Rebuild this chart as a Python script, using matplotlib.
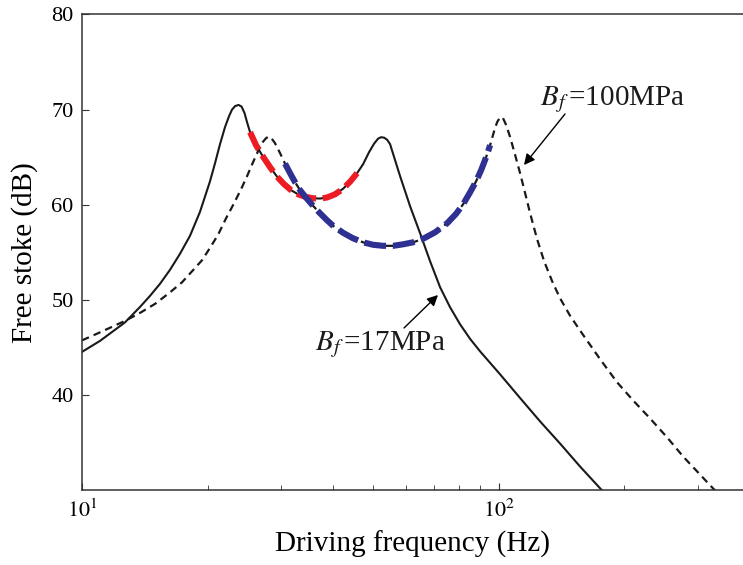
import numpy as np
import matplotlib
matplotlib.use('Agg')
from matplotlib import pyplot as plt
from matplotlib import ticker

# B_f = 17 MPa (solid curve)
f_17 = [10.00, 11.04, 12.68, 13.78, 14.56, 15.38, 16.26, 17.18, 18.16, 19.19, 20.28, 20.85,
        21.43, 22.03, 22.53, 22.90, 23.29, 23.74, 24.14, 24.54, 24.88, 25.30, 26.15, 27.18,
        28.25, 29.37, 30.53, 31.73, 32.98, 34.28, 35.82, 37.24, 38.70, 40.46, 42.29, 43.95,
        45.69, 47.23, 48.82, 50.18, 51.31, 52.16, 53.04, 53.92, 54.82, 56.36, 57.94, 61.23,
        64.71, 68.39, 72.27, 76.38, 80.72, 85.31, 90.15, 100.7, 112.4, 125.6, 140.2, 156.6,
        176.9, 184.9]
db_17 = [44.52, 45.67, 47.62, 49.25, 50.41, 51.67, 53.15, 54.83, 56.73, 59.25, 62.46, 64.36,
         66.36, 68.15, 69.31, 69.99, 70.36, 70.48, 70.31, 69.62, 68.67, 67.62, 66.25, 65.04,
         63.94, 62.94, 62.15, 61.52, 61.09, 60.83, 60.67, 60.64, 60.75, 61.09, 61.67, 62.41,
         63.31, 64.25, 65.52, 66.41, 66.94, 67.09, 67.04, 66.83, 66.36, 64.67, 62.99, 59.83,
         56.99, 54.04, 51.31, 49.20, 47.41, 45.88, 44.57, 42.15, 39.67, 37.20, 34.88, 32.46,
         29.94, 29.09]

# B_f = 100 MPa (dashed curve)
f_100 = [10.00, 11.04, 12.68, 13.78, 14.97, 16.26, 17.37, 18.36, 19.40, 20.28, 21.20, 22.16,
         23.16, 24.07, 24.88, 25.72, 26.44, 27.18, 27.64, 28.02, 28.41, 29.04, 29.86, 30.69,
         31.55, 32.44, 33.35, 34.47, 35.82, 37.24, 38.70, 40.01, 42.29, 44.69, 47.23, 49.91,
         52.74, 55.74, 58.91, 62.26, 65.79, 70.30, 75.12, 78.95, 82.06, 85.31, 88.17, 90.64,
         93.18, 95.26, 97.39, 99.01, 100.7, 102.3, 104.1, 106.4, 109.4, 112.4, 115.6, 118.8,
         123.5, 128.4, 134.2, 140.2, 148.2, 158.3, 175.0, 192.2, 209.9, 230.5, 253.3, 276.6,
         300.6, 326.6, 343.2]
db_100 = [45.73, 46.57, 47.78, 48.62, 49.57, 50.78, 51.83, 52.99, 54.15, 55.46, 56.83, 58.57,
          60.15, 61.62, 62.99, 64.46, 65.62, 66.62, 66.99, 67.15, 67.04, 66.46, 65.41, 64.31,
          63.31, 62.36, 61.52, 60.73, 59.88, 59.09, 58.36, 57.78, 57.04, 56.46, 56.04, 55.78,
          55.67, 55.67, 55.83, 56.04, 56.41, 57.09, 58.04, 59.04, 60.04, 61.31, 62.46, 63.62,
          64.99, 66.25, 67.73, 68.67, 69.20, 69.09, 68.36, 67.09, 65.20, 63.31, 61.20, 59.09,
          56.36, 54.04, 51.94, 50.15, 48.31, 46.46, 43.73, 41.31, 39.41, 37.52, 35.52, 33.52,
          31.83, 30.15, 29.20]

# frequency ranges drawn in colour
red_range  = (25.3, 45.9)
blue_range = (30.6, 96.9)

# =============================================================================

plt.rcParams['font.family'] = ['Liberation Serif', 'DejaVu Serif']
plt.rcParams['mathtext.fontset'] = 'stix'

f_17, db_17   = np.array(f_17), np.array(db_17)
f_100, db_100 = np.array(f_100), np.array(db_100)

fig = plt.figure(figsize=(7.43, 5.65), dpi=100)
ax = fig.add_axes([82/743, 75/565, 1 - 82/743, 475.6/565])

ax.plot(f_17, db_17, color='#1a1a1a', lw=1.5)
ax.plot(f_100, db_100, color='#1a1a1a', lw=1.6, ls=(0, (3.4, 2.3)))

m = (f_17 >= red_range[0]) & (f_17 <= red_range[1])
ax.plot(f_17[m], db_17[m], color='#ed1c24', lw=4.4, ls=(0, (3.2, 1.1)), dash_capstyle='butt')
m = (f_100 >= blue_range[0]) & (f_100 <= blue_range[1])
ax.plot(f_100[m], db_100[m], color='#2e3192', lw=4.4, ls=(0, (3.6, 1.1)), dash_capstyle='butt')

ax.set_xscale('log')
ax.set_xlim(10, 385)
ax.set_ylim(30, 80)
ax.set_yticks([40, 50, 60, 70, 80])
ax.xaxis.set_major_locator(ticker.FixedLocator([10, 100]))
ax.xaxis.set_major_formatter(ticker.FixedFormatter([r'$10^{1}$', r'$10^{2}$']))
ax.xaxis.set_minor_locator(ticker.FixedLocator([20, 30, 40, 50, 60, 70, 80, 90, 200, 300]))
ax.xaxis.set_minor_formatter(ticker.NullFormatter())

ax.tick_params(which='both', direction='in', labelsize=16, color='#333333')
ax.tick_params(axis='y', which='major', length=5, pad=6)
ax.tick_params(axis='x', which='major', length=5, pad=7)
ax.tick_params(axis='x', which='minor', length=3.5)
ax.spines['right'].set_visible(False)
for s in ['left', 'top', 'bottom']:
	ax.spines[s].set_linewidth(1.1)
	ax.spines[s].set_color('#333333')

ax.set_xlabel("Driving frequency (Hz)", fontsize=21, labelpad=6)
ax.set_ylabel("Free stoke (dB)", fontsize=21, labelpad=10)

arrow = dict(arrowstyle='-|>', color='black', lw=1.0, mutation_scale=16, shrinkA=0, shrinkB=0)
fig.text(380/743, (565-345)/565, r'$B_f\,$=17MPa', fontsize=21, ha='center', va='center', color='#1a1a1a')
ax.annotate('', xy=(438/743, (565-295)/565), xytext=(404/743, (565-328)/565),
            xycoords='figure fraction', textcoords='figure fraction', arrowprops=arrow)
fig.text(613/743, (565-100)/565, r'$B_f\,$=100MPa', fontsize=21, ha='center', va='center', color='#1a1a1a')
ax.annotate('', xy=(524/743, (565-165)/565), xytext=(565/743, (565-114)/565),
            xycoords='figure fraction', textcoords='figure fraction', arrowprops=arrow)

plt.savefig('out.png', dpi=100)
